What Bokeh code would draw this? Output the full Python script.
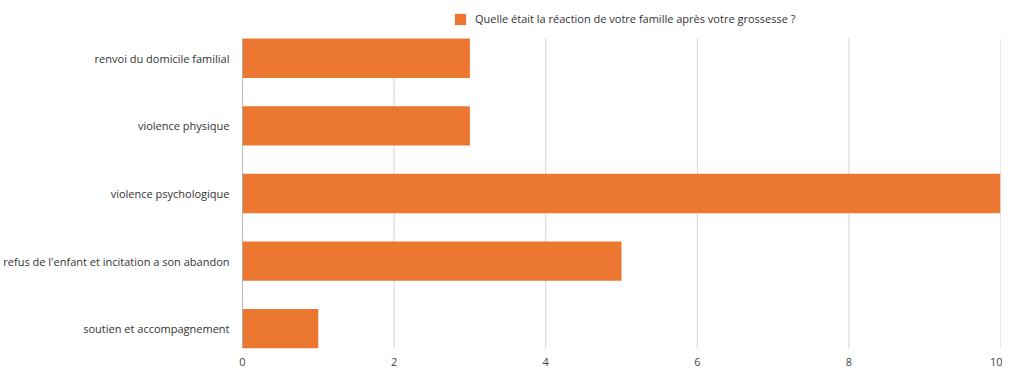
from bokeh.plotting import figure
from bokeh.models import ColumnDataSource, Range1d, FixedTicker, Legend, LegendItem
from bokeh.embed import file_html
from bokeh.resources import INLINE

categories = [
    "renvoi du domicile familial",
    "violence physique",
    "violence psychologique",
    "refus de l'enfant et incitation a son abandon",
    "soutien et accompagnement",
]
values = [3, 3, 10, 5, 1]
series_name = "Quelle était la réaction de votre famille après votre grossesse ?"
x_ticks = [0, 2, 4, 6, 8, 10]

n = len(categories)
ypos = [n - 1 - i for i in range(n)]
src = ColumnDataSource(dict(y=ypos, v=values, cat=categories))

FONT = "Open Sans"
FRAME_H = 348          # frame includes a legend strip at its top
PLOT_PX = 310          # pixel height of the bar area
PAD = 0.292
span = (n - 1) + 2 * PAD
px_per_unit = PLOT_PX / span
y_bot = -PAD
y_top_area = (n - 1) + PAD
y_top = y_top_area + (FRAME_H - PLOT_PX) / px_per_unit

p = figure(width=1002, frame_height=FRAME_H, output_backend="svg", toolbar_location=None,
           x_range=Range1d(0, 10), y_range=Range1d(y_bot, y_top),
           min_border_left=233, min_border_right=2, min_border_top=0, min_border_bottom=0)
p.outline_line_color = None
p.background_fill_color = "white"

# vertical gridlines and left axis line, limited to the bar area
grid_x = x_ticks[1:]
p.segment(x0=grid_x, y0=[y_bot] * len(grid_x), x1=grid_x, y1=[y_top_area] * len(grid_x),
          line_color="#d4d4d4", line_width=1)

r = p.hbar(y="y", right="v", left=0, height=0.584, source=src,
           fill_color="#EC7731", line_color=None)

p.segment(x0=[0], y0=[y_bot], x1=[0], y1=[y_top_area], line_color="#777777", line_width=1)

p.xaxis.ticker = FixedTicker(ticks=x_ticks)
p.xaxis.axis_line_color = None
p.xaxis.major_tick_line_color = None
p.xaxis.minor_tick_line_color = None
p.xaxis.major_label_text_font = FONT
p.xaxis.major_label_text_font_size = "11px"
p.xaxis.major_label_text_color = "#444444"
p.xaxis.major_label_standoff = 3

p.yaxis.ticker = FixedTicker(ticks=ypos)
p.yaxis.major_label_overrides = {y: c for y, c in zip(ypos, categories)}
p.yaxis.axis_line_color = None
p.yaxis.major_tick_line_color = None
p.yaxis.minor_tick_line_color = None
p.yaxis.major_label_text_font = FONT
p.yaxis.major_label_text_font_size = "11px"
p.yaxis.major_label_text_color = "#333333"
p.yaxis.major_label_standoff = 7

p.xgrid.grid_line_color = None
p.ygrid.grid_line_color = None

legend = Legend(items=[LegendItem(label=series_name, renderers=[r])],
                location=(211, FRAME_H - 12 - 14), orientation="horizontal",
                border_line_color=None, background_fill_alpha=0,
                glyph_width=14, glyph_height=14, label_standoff=8,
                label_text_font=FONT, label_text_font_size="11px",
                label_text_color="#333333", padding=0, margin=0, spacing=0)
p.add_layout(legend)

open("out.html", "w").write(file_html(p, INLINE))
